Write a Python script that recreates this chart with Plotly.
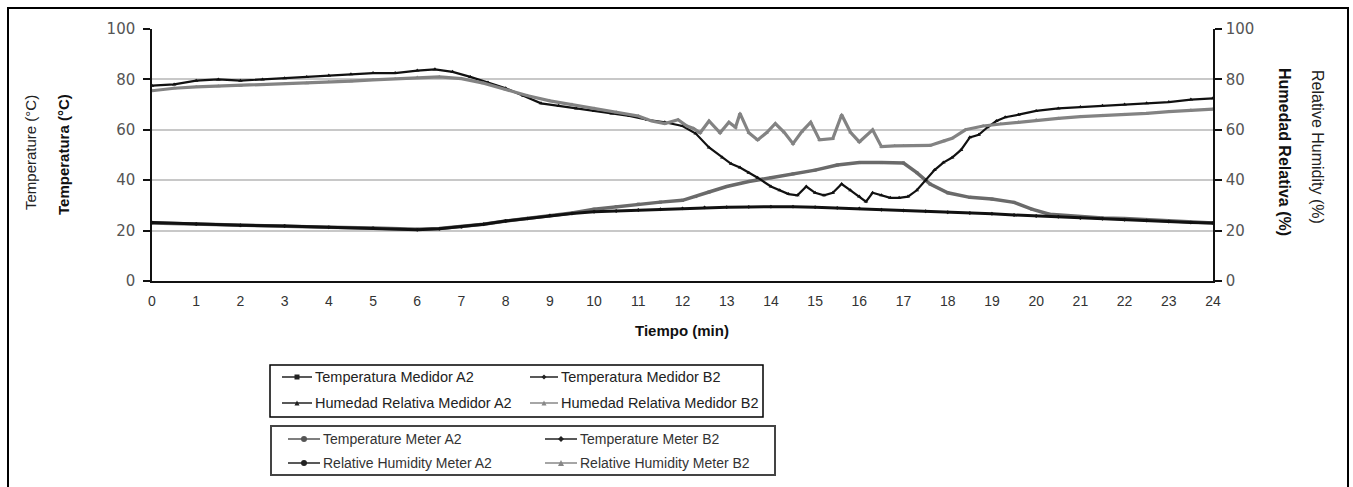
import plotly.graph_objects as go

# ---------------- data ----------------
time_tempA2 = [0, 1, 2, 3, 4, 5, 6, 6.5, 7, 7.5, 8, 8.5, 9, 9.5, 10, 10.5, 11, 11.5, 12, 12.3, 12.6,
               13, 13.5, 14, 14.5, 15, 15.5, 16, 16.5, 17, 17.3, 17.6, 18, 18.5, 19, 19.5, 19.9,
               20.3, 20.7, 21, 21.5, 22, 22.5, 23, 23.5, 24]
temp_A2 = [23, 22.5, 22, 21.8, 21.3, 21, 20.5, 20.8, 21.5, 22.5, 23.8, 24.8, 26, 27, 28.5, 29.5, 30.5,
           31.3, 32, 33.5, 35.3, 37.5, 39.5, 41, 42.5, 44, 46, 47, 47, 46.8, 43, 38.5, 35, 33.2, 32.5,
           31.2, 28.5, 26.5, 26, 25.5, 25, 24.8, 24.3, 23.8, 23.3, 23]

time_tempB2 = [0, 1, 2, 3, 4, 5, 6, 6.5, 7, 7.5, 8, 8.5, 9, 9.5, 10, 10.5, 11, 11.5, 12, 12.5, 13,
               13.5, 14, 14.5, 15, 15.5, 16, 16.5, 17, 17.5, 18, 18.5, 19, 19.5, 20, 20.5, 21, 21.5,
               22, 22.5, 23, 23.5, 24]
temp_B2 = [23.2, 22.6, 22.1, 21.8, 21.3, 21, 20.3, 20.7, 21.5, 22.5, 23.8, 24.8, 26, 26.8, 27.5, 27.8,
           28.2, 28.5, 28.8, 29.2, 29.3, 29.4, 29.5, 29.5, 29.3, 29, 28.8, 28.3, 28, 27.7, 27.3, 27,
           26.7, 26.2, 25.8, 25.5, 25, 24.7, 24.3, 24, 23.6, 23.2, 23]

time_rhA2 = [0, 0.5, 1, 1.5, 2, 2.5, 3, 3.5, 4, 4.5, 5, 5.5, 6, 6.4, 6.8, 7.2, 7.6, 8, 8.4, 8.8, 9.2,
             9.6, 10, 10.4, 10.8, 11.2, 11.6, 12, 12.3, 12.6, 12.9, 13.1, 13.3, 13.5, 13.7, 14, 14.2,
             14.4, 14.6, 14.8, 15, 15.2, 15.4, 15.6, 15.8, 16, 16.15, 16.3, 16.5, 16.7, 16.9, 17.1,
             17.3, 17.5, 17.7, 17.9, 18.1, 18.3, 18.5, 18.7, 18.9, 19.1, 19.3, 19.6, 20, 20.5, 21,
             21.5, 22, 22.5, 23, 23.5, 24]
rh_A2 = [77.5, 78, 79.5, 80, 79.5, 80, 80.5, 81, 81.5, 82, 82.5, 82.5, 83.5, 84, 83, 81, 78.8, 76.5,
         73.5, 70.5, 69.5, 68.5, 67.5, 66.5, 65.5, 64, 63, 61.5, 58.5, 53, 49, 46.5, 45, 43, 41, 37.5,
         36, 34.5, 34, 37.5, 35, 34, 35, 38.5, 36, 33.5, 31.5, 35, 34, 33, 33, 33.5, 36, 40, 44, 47,
         49, 52, 57, 58, 61, 63.5, 65, 66, 67.5, 68.5, 69, 69.5, 70, 70.5, 71, 72, 72.5]

time_rhB2 = [0, 0.5, 1, 1.5, 2, 2.5, 3, 3.5, 4, 4.5, 5, 5.5, 6, 6.5, 7, 7.5, 8, 8.5, 9, 9.5, 10,
             10.5, 11, 11.3, 11.6, 11.9, 12.1, 12.25, 12.4, 12.6, 12.85, 13.05, 13.2, 13.3, 13.5,
             13.7, 13.9, 14.1, 14.3, 14.5, 14.7, 14.9, 15.1, 15.4, 15.6, 15.8, 16.0, 16.3, 16.5,
             16.8, 17.0, 17.3, 17.6, 17.9, 18.1, 18.4, 18.8, 19.2, 19.6, 20, 20.5, 21, 21.5, 22,
             22.5, 23, 23.5, 24]
rh_B2 = [75.5, 76.5, 77, 77.3, 77.5, 77.8, 78.2, 78.5, 79, 79.3, 79.8, 80.2, 80.8, 81, 80.3, 78.5,
         76, 73.5, 71.5, 70, 68.5, 67, 65.5, 63.5, 62.5, 64, 61.5, 60.5, 58.8, 63.5, 58.8, 63, 61,
         66.5, 58.8, 56, 58.8, 62.5, 59, 54.5, 59.3, 63, 56, 56.5, 66, 59, 55.2, 60, 53.3, 53.6,
         53.6, 53.6, 53.8, 55.5, 56.6, 60, 61.5, 62.3, 63, 63.9, 64.5, 65.2, 65.6, 66, 66.5, 67.2,
         67.8, 68.2]

x_ticks = list(range(0, 25))
y_ticks = [0, 20, 40, 60, 80, 100]

names_es = ["Temperatura Medidor A2", "Temperatura Medidor B2",
            "Humedad Relativa Medidor A2", "Humedad Relativa Medidor B2"]
names_en = ["Temperature Meter A2", "Temperature Meter B2",
            "Relative Humidity Meter A2", "Relative Humidity Meter B2"]

# ---------------- styling ----------------
W, H = 1353, 487
L, R, T, B = 152, 1213, 29, 281   # plot area in pixels
GRAY_T = "#6a6a6a"
GRAY_H = "#838383"
FONT = "Liberation Sans, Arial, sans-serif"
NARROW = "Liberation Sans Narrow, Arial Narrow, Liberation Sans, sans-serif"


def px(x):
    return (x - L) / (R - L)


def py(y):
    return (B - y) / (B - T)


fig = go.Figure()
fig.add_trace(go.Scatter(x=time_tempA2, y=temp_A2, name=names_es[0], mode="lines+markers",
                         line=dict(color=GRAY_T, width=3.5), marker=dict(symbol="square", size=3, color=GRAY_T)))
fig.add_trace(go.Scatter(x=time_tempB2, y=temp_B2, name=names_es[1], mode="lines+markers",
                         line=dict(color="#111111", width=3), marker=dict(symbol="diamond", size=3, color="#111111")))
fig.add_trace(go.Scatter(x=time_rhA2, y=rh_A2, name=names_es[2], mode="lines+markers", yaxis="y2",
                         line=dict(color="#111111", width=2.2), marker=dict(symbol="triangle-up", size=4, color="#111111")))
fig.add_trace(go.Scatter(x=time_rhB2, y=rh_B2, name=names_es[3], mode="lines+markers", yaxis="y2",
                         line=dict(color=GRAY_H, width=3.2), marker=dict(symbol="triangle-up", size=4, color=GRAY_H)))

shapes = []
annots = []

# outer frame
shapes.append(dict(type="rect", xref="paper", yref="paper", x0=px(8), x1=px(1348), y0=py(500), y1=py(8),
                   line=dict(color="black", width=2), layer="below"))


def text(x, y, s, size, color, family=FONT, angle=0, xanchor="center"):
    annots.append(dict(x=px(x), y=py(y), xref="paper", yref="paper", text=s, textangle=angle,
                       xanchor=xanchor, yanchor="middle", showarrow=False,
                       font=dict(family=family, size=size, color=color)))


# axis titles
text(30, 153, "Temperature (°C)", 15, "#222", NARROW, -90)
text(63, 155, "<b>Temperatura (°C)</b>", 15, "#111", NARROW, -90)
text(1285, 152, "<b>Humedad Relativa (%)</b>", 16, "#111", NARROW, 90)
text(1318, 147, "Relative Humidity (%)", 16, "#222", NARROW, 90)
text(682, 330, "<b>Tiempo (min)</b>", 15, "#111")

# legend boxes
shapes.append(dict(type="rect", xref="paper", yref="paper", x0=px(270), x1=px(763), y0=py(417), y1=py(365),
                   line=dict(color="black", width=1.5)))
shapes.append(dict(type="rect", xref="paper", yref="paper", x0=px(271), x1=px(775), y0=py(475), y1=py(426),
                   line=dict(color="#444", width=2)))


def marker_shape(cx, cy, kind, color, s=3):
    if kind == "square":
        return dict(type="rect", xref="paper", yref="paper", x0=px(cx - s), x1=px(cx + s),
                    y0=py(cy + s), y1=py(cy - s), fillcolor=color, line=dict(width=0))
    if kind == "circle":
        return dict(type="circle", xref="paper", yref="paper", x0=px(cx - s), x1=px(cx + s),
                    y0=py(cy + s), y1=py(cy - s), fillcolor=color, line=dict(width=0))
    if kind == "diamond":
        path = "M {} {} L {} {} L {} {} L {} {} Z".format(px(cx), py(cy - s), px(cx + s), py(cy),
                                                          px(cx), py(cy + s), px(cx - s), py(cy))
        return dict(type="path", xref="paper", yref="paper", path=path, fillcolor=color, line=dict(width=0))
    path = "M {} {} L {} {} L {} {} Z".format(px(cx), py(cy - s), px(cx + s), py(cy + s), px(cx - s), py(cy + s))
    return dict(type="path", xref="paper", yref="paper", path=path, fillcolor=color, line=dict(width=0))


leg_es = [(282, 312, 377, "square", "#222"), (530, 558, 377, "diamond", "#222"),
          (282, 312, 403, "triangle", "#222"), (530, 558, 403, "triangle", "#888")]
leg_en = [(288, 320, 439, "circle", "#555"), (545, 577, 439, "diamond", "#222"),
          (288, 320, 463, "circle", "#222"), (545, 577, 463, "triangle", "#888")]

for (x0, x1, yy, kind, col), name in zip(leg_es, names_es):
    shapes.append(dict(type="line", xref="paper", yref="paper", x0=px(x0), x1=px(x1), y0=py(yy), y1=py(yy),
                       line=dict(color=col, width=1.5)))
    shapes.append(marker_shape((x0 + x1) / 2, yy, kind, col, 2.5))
    text(x1 + 1, yy, name, 14.5, "#222", FONT, 0, "left")

for (x0, x1, yy, kind, col), name in zip(leg_en, names_en):
    shapes.append(dict(type="line", xref="paper", yref="paper", x0=px(x0), x1=px(x1), y0=py(yy), y1=py(yy),
                       line=dict(color=col, width=1.5)))
    shapes.append(marker_shape((x0 + x1) / 2, yy, kind, col, 3))
    text(x1 + 1, yy, name, 14, "#333", FONT, 0, "left")

fig.update_layout(
    width=W, height=H,
    margin=dict(l=L, r=W - R, t=T, b=H - B),
    paper_bgcolor="white", plot_bgcolor="white",
    showlegend=False,
    xaxis=dict(range=[0, 24], tickvals=x_ticks, ticktext=[str(v) for v in x_ticks],
               showgrid=False, zeroline=False, showline=True, linecolor="#111", linewidth=2,
               ticks="", ticklabelstandoff=6,
               tickfont=dict(family=NARROW, size=14, color="#333")),
    yaxis=dict(range=[0, 100], tickvals=y_ticks, showgrid=True, gridcolor="#c8c8c8", gridwidth=1.5,
               zeroline=False, showline=True, linecolor="#111", linewidth=1.5,
               ticks="outside", ticklen=7, tickcolor="#111", tickwidth=1.5,
               ticklabelstandoff=5,
               tickfont=dict(family="DejaVu Sans, sans-serif", size=15, color="#555")),
    yaxis2=dict(range=[0, 100], tickvals=y_ticks, overlaying="y", side="right", showgrid=False,
                zeroline=False, showline=True, linecolor="#111", linewidth=1.5,
                ticks="outside", ticklen=7, tickcolor="#111", tickwidth=1.5,
                ticklabelstandoff=1,
                tickfont=dict(family="DejaVu Sans, sans-serif", size=15, color="#555")),
    shapes=shapes, annotations=annots,
)

fig.write_html("out.html", config={"displayModeBar": False},
               post_script="document.body.style.margin='0';")
